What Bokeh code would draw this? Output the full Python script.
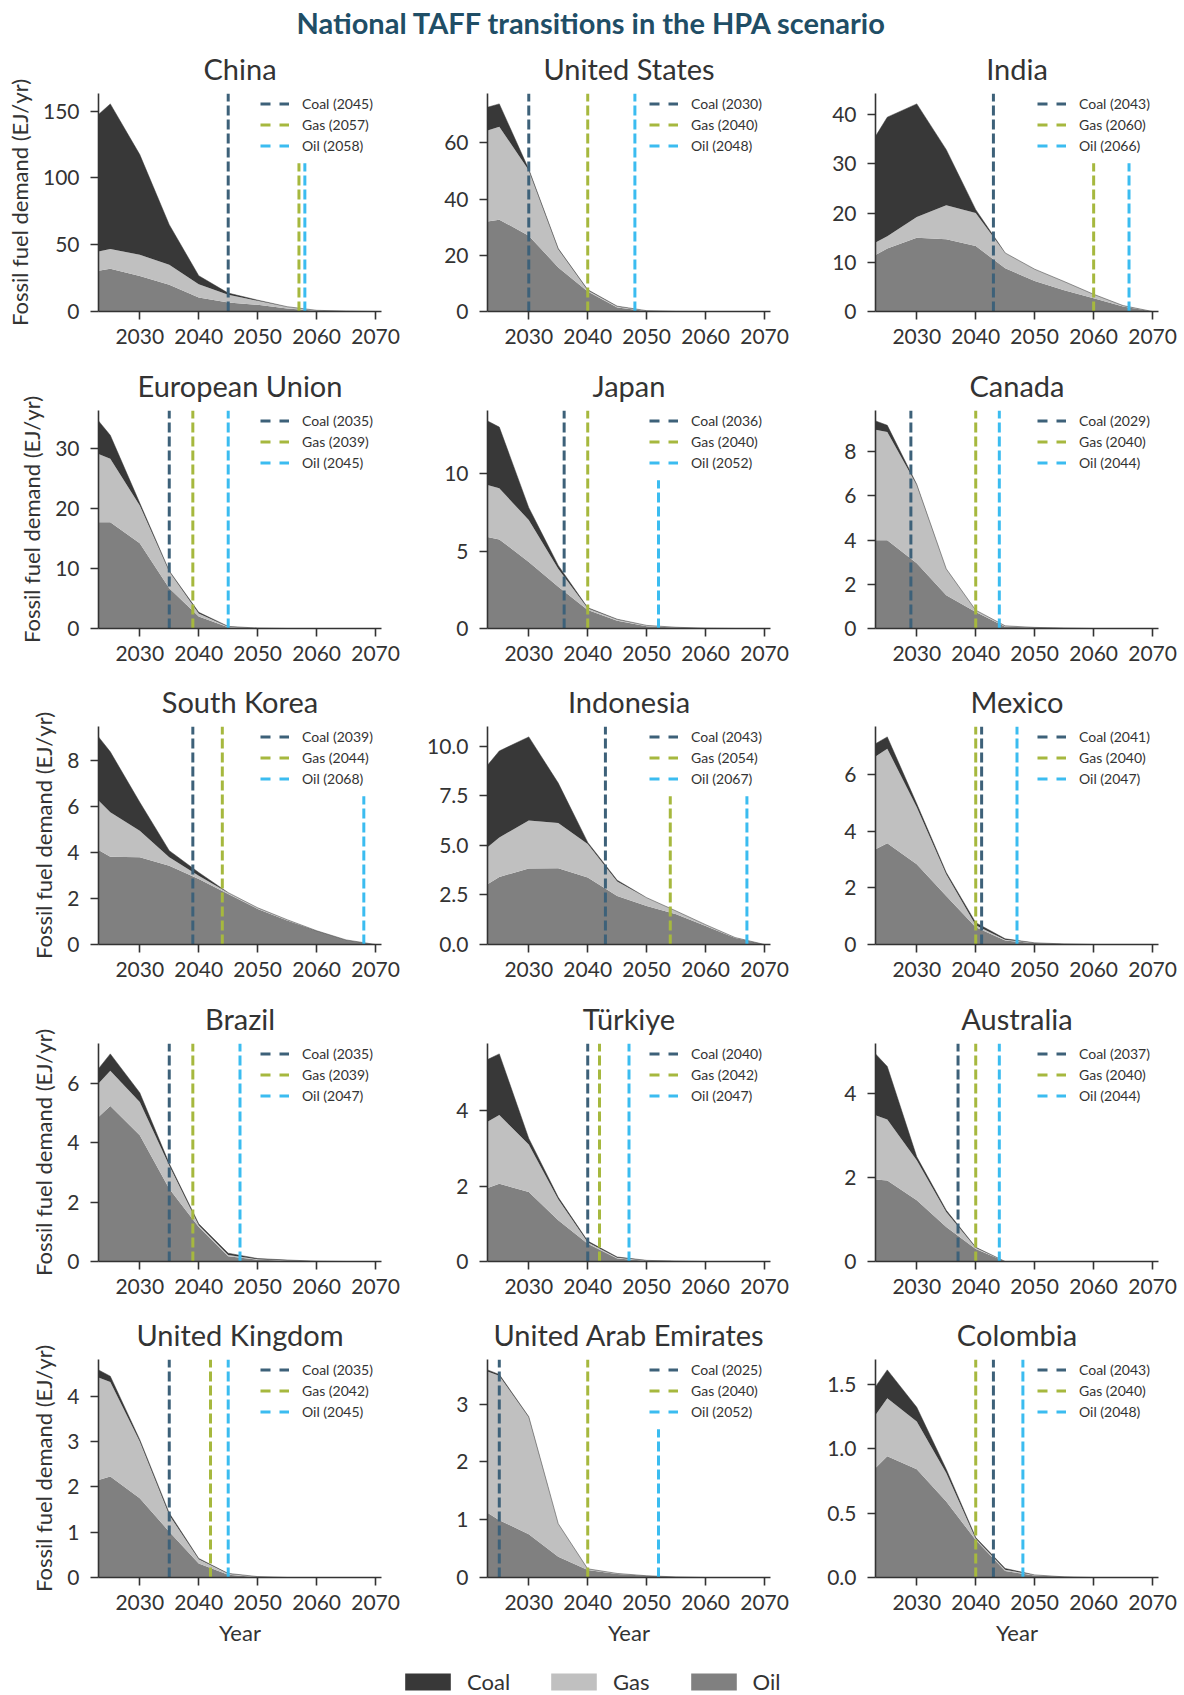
from bokeh.plotting import figure
from bokeh.models import (ColumnDataSource, Range1d, Legend, LegendItem, FixedTicker,
                          PrintfTickFormatter)
from bokeh.layouts import gridplot, column
from bokeh.embed import file_html
from bokeh.resources import INLINE

FONT = "Lato"
TEXT_C = "#333333"
COAL_C, GAS_C, OIL_C = "#383838", "#c0c0c0", "#808080"
LINE_COLORS = {"Coal": "#3d6179", "Gas": "#a6b83e", "Oil": "#3bbcf0"}
NAN = float("nan")

YEARS = [2023, 2025, 2030, 2035, 2040, 2045, 2050, 2055, 2060, 2065, 2070]
X_TICKS = [2030, 2040, 2050, 2060, 2070]
FUELS = ["Coal", "Gas", "Oil"]

COUNTRIES = ["China", "United States", "India", "European Union", "Japan", "Canada",
             "South Korea", "Indonesia", "Mexico", "Brazil", "Türkiye", "Australia",
             "United Kingdom", "United Arab Emirates", "Colombia"]

# ---- data (EJ/yr) ----
CHINA_OIL = [30.5, 32.0, 26.5, 20.0, 10.5, 6.8, 5.0, 2.3, 0.5, 0.2, 0]
CHINA_GAS = [14.5, 14.8, 16.0, 15.0, 10.0, 5.7, 3.0, 1.2, 0.4, 0.1, 0]
CHINA_COAL = [102.5, 108.7, 75.0, 30.0, 6.3, 1.3, 0.5, 0.1, 0, 0, 0]
CHINA_PHASE = [2045, 2057, 2058]
CHINA_YT = [0, 50, 100, 150]

US_OIL = [32.0, 32.7, 27.0, 15.7, 7.1, 1.4, 0.2, 0.03, 0, 0, 0]
US_GAS = [32.4, 33.1, 23.3, 6.5, 0.5, 0.4, 0.1, 0.02, 0, 0, 0]
US_COAL = [8.3, 8.1, 0.3, 0.2, 0.15, 0.1, 0, 0, 0, 0, 0]
US_PHASE = [2030, 2040, 2048]
US_YT = [0, 20, 40, 60]

INDIA_OIL = [11.5, 12.8, 15.0, 14.7, 13.3, 8.8, 6.2, 4.3, 2.7, 1.0, 0]
INDIA_GAS = [2.5, 2.5, 4.2, 6.9, 6.7, 3.1, 2.4, 1.8, 0.8, 0.2, 0]
INDIA_COAL = [21.6, 24.2, 23.0, 11.3, 0.7, 0, 0, 0, 0, 0, 0]
INDIA_PHASE = [2043, 2060, 2066]
INDIA_YT = [0, 10, 20, 30, 40]

EU_OIL = [17.7, 17.7, 14.2, 6.7, 2.0, 0.2, 0.05, 0, 0, 0, 0]
EU_GAS = [11.4, 10.6, 6.3, 2.8, 0.5, 0.1, 0.02, 0, 0, 0, 0]
EU_COAL = [5.5, 3.9, 0.4, 0.1, 0.2, 0.05, 0, 0, 0, 0, 0]
EU_PHASE = [2035, 2039, 2045]
EU_YT = [0, 10, 20, 30]

JAPAN_OIL = [5.9, 5.75, 4.3, 2.7, 1.2, 0.5, 0.15, 0.06, 0.02, 0, 0]
JAPAN_GAS = [3.36, 3.3, 2.7, 1.15, 0.1, 0.08, 0.05, 0.02, 0, 0, 0]
JAPAN_COAL = [4.14, 3.95, 0.8, 0.22, 0.04, 0.02, 0, 0, 0, 0, 0]
JAPAN_PHASE = [2036, 2040, 2052]
JAPAN_YT = [0, 5, 10]

CANADA_OIL = [4.0, 4.0, 2.95, 1.5, 0.75, 0.08, 0.04, 0.02, 0, 0, 0]
CANADA_GAS = [5.0, 4.9, 3.55, 1.2, 0.08, 0.04, 0.01, 0, 0, 0, 0]
CANADA_COAL = [0.4, 0.3, 0.02, 0, 0, 0, 0, 0, 0, 0, 0]
CANADA_PHASE = [2029, 2040, 2044]
CANADA_YT = [0, 2, 4, 6, 8]

KOREA_OIL = [4.12, 3.82, 3.8, 3.43, 2.85, 2.2, 1.55, 1.05, 0.6, 0.2, 0]
KOREA_GAS = [2.16, 1.95, 1.16, 0.37, 0.15, 0.06, 0.05, 0.03, 0, 0, 0]
KOREA_COAL = [2.77, 2.63, 1.24, 0.29, 0.14, 0, 0, 0, 0, 0, 0]
KOREA_PHASE = [2039, 2044, 2068]
KOREA_YT = [0, 2, 4, 6, 8]

INDONESIA_OIL = [3.04, 3.41, 3.83, 3.85, 3.38, 2.45, 1.94, 1.52, 0.93, 0.33, 0]
INDONESIA_GAS = [1.86, 1.99, 2.42, 2.28, 1.69, 0.73, 0.42, 0.17, 0.07, 0.02, 0]
INDONESIA_COAL = [4.14, 4.36, 4.22, 2.01, 0.08, 0.06, 0, 0, 0, 0, 0]
INDONESIA_PHASE = [2043, 2054, 2067]
INDONESIA_YT = [0, 2.5, 5, 7.5, 10]

MEXICO_OIL = [3.36, 3.57, 2.83, 1.71, 0.61, 0.14, 0.05, 0.02, 0, 0, 0]
MEXICO_GAS = [3.27, 3.33, 2.01, 0.77, 0.07, 0.03, 0.01, 0, 0, 0, 0]
MEXICO_COAL = [0.45, 0.42, 0.12, 0.06, 0.09, 0.03, 0, 0, 0, 0, 0]
MEXICO_PHASE = [2041, 2040, 2047]
MEXICO_YT = [0, 2, 4, 6]

BRAZIL_OIL = [4.87, 5.24, 4.26, 2.45, 1.16, 0.18, 0.06, 0.03, 0.01, 0, 0]
BRAZIL_GAS = [1.13, 1.19, 1.12, 0.79, 0.06, 0.04, 0.02, 0.01, 0, 0, 0]
BRAZIL_COAL = [0.5, 0.57, 0.31, 0.06, 0.05, 0.06, 0.02, 0.01, 0, 0, 0]
BRAZIL_PHASE = [2035, 2039, 2047]
BRAZIL_YT = [0, 2, 4, 6]

TURKIYE_OIL = [1.95, 2.06, 1.84, 1.09, 0.47, 0.08, 0.02, 0.01, 0, 0, 0]
TURKIYE_GAS = [1.75, 1.82, 1.26, 0.56, 0.04, 0.02, 0.01, 0, 0, 0, 0]
TURKIYE_COAL = [1.65, 1.62, 0.16, 0.05, 0.03, 0.02, 0, 0, 0, 0, 0]
TURKIYE_PHASE = [2040, 2042, 2047]
TURKIYE_YT = [0, 2, 4]

AUSTRALIA_OIL = [1.95, 1.93, 1.46, 0.82, 0.30, 0, 0, 0, 0, 0, 0]
AUSTRALIA_GAS = [1.53, 1.45, 0.95, 0.36, 0.03, 0, 0, 0, 0, 0, 0]
AUSTRALIA_COAL = [1.46, 1.26, 0.08, 0.04, 0.01, 0, 0, 0, 0, 0, 0]
AUSTRALIA_PHASE = [2037, 2040, 2044]
AUSTRALIA_YT = [0, 2, 4]

UK_OIL = [2.15, 2.23, 1.75, 1.01, 0.31, 0.06, 0.01, 0, 0, 0, 0]
UK_GAS = [2.26, 2.08, 1.25, 0.37, 0.09, 0.02, 0.01, 0, 0, 0, 0]
UK_COAL = [0.17, 0.13, 0.04, 0.04, 0.02, 0.01, 0, 0, 0, 0, 0]
UK_PHASE = [2035, 2042, 2045]
UK_YT = [0, 1, 2, 3, 4]

UAE_OIL = [1.12, 0.99, 0.75, 0.36, 0.13, 0.06, 0.03, 0.01, 0, 0, 0]
UAE_GAS = [2.44, 2.5, 2.02, 0.57, 0.02, 0.01, 0, 0, 0, 0, 0]
UAE_COAL = [0.03, 0.02, 0.01, 0, 0, 0, 0, 0, 0, 0, 0]
UAE_PHASE = [2025, 2040, 2052]
UAE_YT = [0, 1, 2, 3]

COLOMBIA_OIL = [0.85, 0.94, 0.84, 0.59, 0.29, 0.05, 0.015, 0.005, 0, 0, 0]
COLOMBIA_GAS = [0.41, 0.45, 0.37, 0.22, 0.01, 0.01, 0.005, 0, 0, 0, 0]
COLOMBIA_COAL = [0.22, 0.22, 0.11, 0.03, 0.01, 0.01, 0, 0, 0, 0, 0]
COLOMBIA_PHASE = [2043, 2040, 2048]
COLOMBIA_YT = [0, 0.5, 1.0, 1.5]

DATA = [
    (CHINA_OIL, CHINA_GAS, CHINA_COAL, CHINA_PHASE, CHINA_YT),
    (US_OIL, US_GAS, US_COAL, US_PHASE, US_YT),
    (INDIA_OIL, INDIA_GAS, INDIA_COAL, INDIA_PHASE, INDIA_YT),
    (EU_OIL, EU_GAS, EU_COAL, EU_PHASE, EU_YT),
    (JAPAN_OIL, JAPAN_GAS, JAPAN_COAL, JAPAN_PHASE, JAPAN_YT),
    (CANADA_OIL, CANADA_GAS, CANADA_COAL, CANADA_PHASE, CANADA_YT),
    (KOREA_OIL, KOREA_GAS, KOREA_COAL, KOREA_PHASE, KOREA_YT),
    (INDONESIA_OIL, INDONESIA_GAS, INDONESIA_COAL, INDONESIA_PHASE, INDONESIA_YT),
    (MEXICO_OIL, MEXICO_GAS, MEXICO_COAL, MEXICO_PHASE, MEXICO_YT),
    (BRAZIL_OIL, BRAZIL_GAS, BRAZIL_COAL, BRAZIL_PHASE, BRAZIL_YT),
    (TURKIYE_OIL, TURKIYE_GAS, TURKIYE_COAL, TURKIYE_PHASE, TURKIYE_YT),
    (AUSTRALIA_OIL, AUSTRALIA_GAS, AUSTRALIA_COAL, AUSTRALIA_PHASE, AUSTRALIA_YT),
    (UK_OIL, UK_GAS, UK_COAL, UK_PHASE, UK_YT),
    (UAE_OIL, UAE_GAS, UAE_COAL, UAE_PHASE, UAE_YT),
    (COLOMBIA_OIL, COLOMBIA_GAS, COLOMBIA_COAL, COLOMBIA_PHASE, COLOMBIA_YT),
]

ROW_H = [317, 316, 317, 316, 346]
ROW_B = [47, 46, 47, 46, 76]
COL_L = [98, 81, 80]
COL_R = [25, 25, 25]
FRAME_W = 283
TOTAL_W = sum(COL_L) + sum(COL_R) + 3 * FRAME_W


def style_axis(ax):
    ax.axis_line_color = TEXT_C
    ax.axis_line_width = 1.6
    ax.major_tick_line_color = TEXT_C
    ax.major_tick_line_width = 1.6
    ax.major_tick_out = 8
    ax.major_tick_in = 0
    ax.minor_tick_line_color = None
    ax.major_label_text_font = FONT
    ax.major_label_text_font_size = "21px"
    ax.major_label_text_color = TEXT_C
    ax.axis_label_text_font = FONT
    ax.axis_label_text_font_size = "22px"
    ax.axis_label_text_font_style = "normal"
    ax.axis_label_text_color = TEXT_C


def make_panel(i, name, oil, gas, coal, phase, yt):
    r, c = divmod(i, 3)
    total = [o + g + k for o, g, k in zip(oil, gas, coal)]
    ymax = max(total) * 1.05
    p = figure(width=COL_L[c] + FRAME_W + COL_R[c], height=ROW_H[r],
               x_range=Range1d(2023, 2071), y_range=Range1d(0, ymax),
               output_backend="svg", toolbar_location=None,
               min_border_left=COL_L[c], min_border_right=COL_R[c], min_border_top=52,
               min_border_bottom=ROW_B[r], outline_line_color=None)
    p.title.text = name
    p.title.align = "center"
    p.title.text_font = FONT
    p.title.text_font_size = "29px"
    p.title.text_font_style = "normal"
    p.title.text_color = TEXT_C
    p.title.standoff = 15
    p.xgrid.visible = False
    p.ygrid.visible = False

    src = ColumnDataSource(dict(year=YEARS, oil=oil, gas=gas, coal=coal))
    p.varea_stack(["oil", "gas", "coal"], x="year", color=[OIL_C, GAS_C, COAL_C], source=src)
    p.line(YEARS, total, line_color=COAL_C, line_width=1, line_alpha=0.5)

    items = []
    for fuel, yr in zip(FUELS, phase):
        col = LINE_COLORS[fuel]
        top = ymax if yr <= 2050 else 0.68 * ymax
        p.segment(x0=[yr], y0=[0], x1=[yr], y1=[top], line_color=col,
                  line_width=3, line_dash="10 4")
        dummy = p.line(x=[YEARS[0]], y=[NAN], line_color=col, line_width=3,
                       line_dash="10 9")
        items.append(LegendItem(label=f"{fuel} ({yr})", renderers=[dummy]))
    leg = Legend(items=items, location=(162, 155), padding=0, margin=0, spacing=0,
                 glyph_width=29, glyph_height=21, label_height=21, label_standoff=13,
                 label_text_font=FONT, label_text_font_size="14px",
                 label_text_color=TEXT_C, border_line_color=None,
                 background_fill_alpha=0)
    p.add_layout(leg)

    p.xaxis.ticker = FixedTicker(ticks=X_TICKS)
    p.yaxis.ticker = FixedTicker(ticks=yt)
    if any(float(t) != int(t) for t in yt):
        p.yaxis.formatter = PrintfTickFormatter(format="%.1f")
    else:
        p.yaxis.formatter = PrintfTickFormatter(format="%d")
    style_axis(p.xaxis[0])
    style_axis(p.yaxis[0])
    p.xaxis.major_label_standoff = 9
    p.yaxis.major_label_standoff = 11
    if c == 0:
        p.yaxis.axis_label = "Fossil fuel demand (EJ/yr)"
        p.yaxis.axis_label_standoff = 7
    if r == 4:
        p.xaxis.axis_label = "Year"
        p.xaxis.axis_label_standoff = 6
    return p


panels = [make_panel(i, n, *d) for i, (n, d) in enumerate(zip(COUNTRIES, DATA))]
rows = [panels[k:k + 3] for k in range(0, 15, 3)]
grid = gridplot(rows, toolbar_location=None)

# main title
tf = figure(width=TOTAL_W, height=41, output_backend="svg", toolbar_location=None,
            min_border=0, outline_line_color=None, x_axis_location=None,
            y_axis_location=None, x_range=Range1d(0, 1), y_range=Range1d(0, 1))
tf.title.text = "National TAFF transitions in the HPA scenario"
tf.title.align = "center"
tf.title.text_font = FONT
tf.title.text_font_size = "29px"
tf.title.text_font_style = "bold"
tf.title.text_color = "#1f4e66"
tf.title.standoff = 4
tf.xgrid.visible = False
tf.ygrid.visible = False

# bottom legend
lf = figure(width=TOTAL_W, height=42, output_backend="svg", toolbar_location=None,
            title=None, min_border=0, outline_line_color=None, x_axis_location=None,
            y_axis_location=None, x_range=Range1d(0, 1), y_range=Range1d(0, 1))
lf.xgrid.visible = False
lf.ygrid.visible = False
litems = []
for fuel, col in zip(FUELS, [COAL_C, GAS_C, OIL_C]):
    rr = lf.varea(x=[0.5], y1=[NAN], y2=[NAN], fill_color=col)
    litems.append(LegendItem(label=fuel, renderers=[rr]))
bleg = Legend(items=litems, orientation="horizontal", location=(399, 0), padding=0,
              margin=0, spacing=35, glyph_width=57, glyph_height=21, label_height=21,
              label_standoff=11, label_text_font=FONT, label_text_font_size="22px",
              label_text_color=TEXT_C, border_line_color=None, background_fill_alpha=0)
lf.add_layout(bleg)

page = column(tf, grid, lf)
open("out.html", "w").write(file_html(page, INLINE))
